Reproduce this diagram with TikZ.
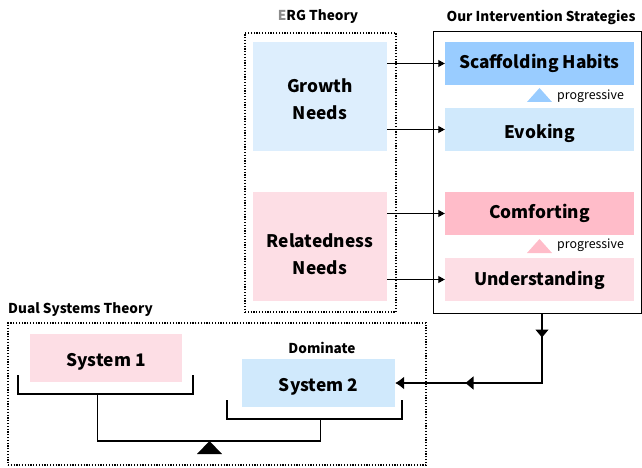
\documentclass[tikz,border=0pt]{standalone}
\usepackage{fontspec}
\setmainfont{Noto Sans CJK SC}
\usetikzlibrary{arrows.meta,decorations.markings}
\definecolor{bluedark}{RGB}{153,204,255}
\definecolor{bluemid}{RGB}{208,233,252}
\definecolor{bluelight}{RGB}{221,238,253}
\definecolor{pinkdark}{RGB}{255,188,201}
\definecolor{pinklight}{RGB}{253,222,229}
\definecolor{ergE}{RGB}{140,140,140}
\tikzset{
  fbox/.style={inner sep=0pt, align=center, font=\bfseries\fontsize{17.3}{27.5}\selectfont},
  tyh/.style={text height=#1, text depth=0pt},
  dotbox/.style={draw, line width=1.2pt, dash pattern=on 1.2pt off 1.6pt, inner sep=0pt},
  solidbox/.style={draw, line width=1pt, inner sep=0pt},
  title/.style={font=\bfseries\fontsize{13.6}{15}\selectfont, inner sep=0pt},
  prog/.style={font=\fontsize{12.4}{14}\selectfont, inner sep=0pt, anchor=west},
  arr/.style={line width=1pt, -{Triangle[length=6.5pt,width=7pt]}},
  bracket/.style={line width=1.2pt},
}
\begin{document}
\begin{tikzpicture}[x=1pt,y=-1pt]
\useasboundingbox (0,0) rectangle (642,468);
% ERG
\node[title] (ergt) at (318,17) {\textcolor{ergE}{E}RG Theory};
\node[dotbox, minimum width=151pt, minimum height=279pt] (erg) at (320.5,172.5) {};
\node[fbox, tyh=46.6pt, fill=bluelight, minimum width=134pt, minimum height=109pt] (growth) at (320,96.5) {Growth\\Needs};
\node[fbox, tyh=56.6pt, fill=pinklight, minimum width=134pt, minimum height=109pt] (related) at (320,246.5) {Relatedness\\Needs};
% Strategies
\node[title] (strt) at (541,17) {Our Intervention Strategies};
\node[solidbox, minimum width=208pt, minimum height=281pt] (strat) at (537,172.5) {};
\node[fbox, tyh=9.8pt, fill=bluedark, minimum width=189pt, minimum height=43pt] (scaff) at (539.5,63.5) {Scaffolding Habits};
\node[fbox, tyh=17.4pt, fill=bluemid, minimum width=189pt, minimum height=43pt] (evok) at (539.5,129.5) {Evoking};
\node[fbox, tyh=10.6pt, fill=pinkdark, minimum width=189pt, minimum height=43pt] (comf) at (539.5,213.5) {Comforting};
\node[fbox, tyh=11.6pt, fill=pinklight, minimum width=189pt, minimum height=43pt] (under) at (539.5,279.5) {Understanding};
\fill[bluedark] (527,102) -- (539.5,88) -- (552,102) -- cycle;
\node[prog] (p1) at (557,96.5) {progressive};
\fill[pinkdark] (527,253) -- (539.5,239) -- (552,253) -- cycle;
\node[prog] (p2) at (557,245.5) {progressive};
% arrows
\draw[arr] (growth.east |- scaff.west) -- (scaff.west);
\draw[arr] (growth.east |- evok.west) -- (evok.west);
\draw[arr] (related.east |- comf.west) -- (comf.west);
\draw[arr] (related.east |- under.west) -- (under.west);
% Dual systems
\node[title, anchor=west] (dualt) at (8,310) {Dual Systems Theory};
\node[dotbox, minimum width=418pt, minimum height=142pt] (dual) at (217,394) {};
\node[fbox, tyh=16.6pt, fill=pinklight, minimum width=152pt, minimum height=48pt] (sys1) at (106,358) {System 1};
\node[fbox, tyh=16.6pt, fill=bluemid, minimum width=153pt, minimum height=48pt] (sys2) at (318.5,383) {System 2};
\node[title] (dom) at (322,348) {Dominate};
% strategies -> system 2
\coordinate (corner) at (542,383);
\draw[line width=1.2pt, -{Latex[length=9pt,width=13pt]},
  decoration={markings,
    mark=at position 24pt with {\arrow{Triangle[length=8pt,width=13pt]}},
    mark=at position 146pt with {\arrow{Triangle[length=8pt,width=13pt]}}},
  postaction={decorate}]
  (strat.south -| corner) -- (corner) -- (sys2.east);
% balance
\draw[bracket] (18,375) -- (18,394) -- (193,394) -- (193,375);
\draw[bracket] (227,400) -- (227,419) -- (402,419) -- (402,400);
\draw[bracket] (97.5,394) -- (97.5,441) -- (320.5,441) -- (320.5,419);
\fill (209.5,441) -- (197,454) -- (222,454) -- cycle;
\end{tikzpicture}
\end{document}
